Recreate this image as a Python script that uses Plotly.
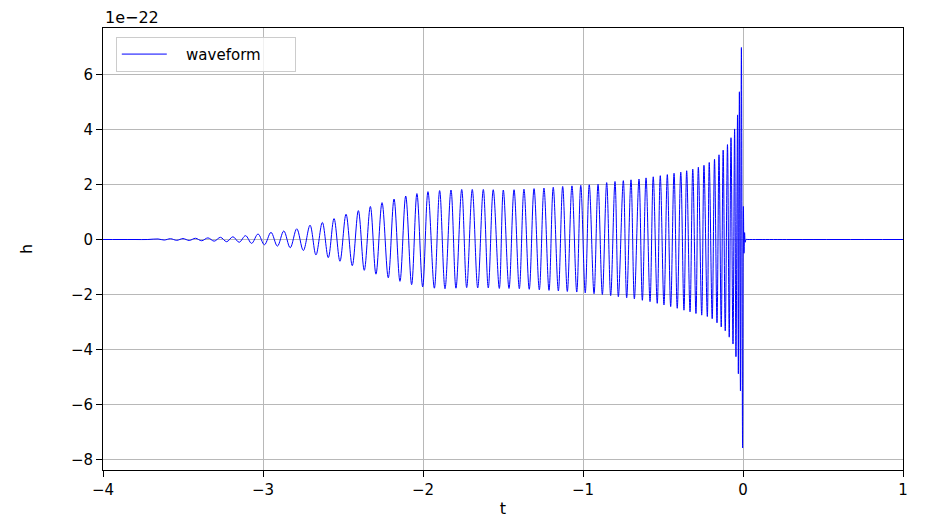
import plotly.graph_objects as go

# ---- data (t in s, h in units of 1e-22) ----
peak_t = [-3.656, -3.578, -3.5, -3.422, -3.344, -3.266, -3.188, -3.109, -3.031, -2.95,
          -2.87, -2.789, -2.706, -2.629, -2.556, -2.481, -2.404, -2.329, -2.256, -2.181,
          -2.108, -2.038, -1.969, -1.896, -1.825, -1.758, -1.692, -1.623, -1.561, -1.498,
          -1.431, -1.369, -1.306, -1.244, -1.186, -1.127, -1.069, -1.014, -0.961, -0.906,
          -0.852, -0.8, -0.748, -0.7, -0.65, -0.606, -0.561, -0.517, -0.473, -0.431,
          -0.389, -0.352, -0.314, -0.279, -0.244, -0.211, -0.178, -0.15, -0.124, -0.097,
          -0.075, -0.0525, -0.034, -0.0225, -0.01]
peak_h = [0.02, 0.03, 0.035, 0.045, 0.06, 0.08, 0.1, 0.14, 0.2, 0.26,
          0.31, 0.39, 0.52, 0.62, 0.76, 0.92, 1.05, 1.2, 1.34, 1.47,
          1.58, 1.67, 1.74, 1.78, 1.8, 1.82, 1.82, 1.82, 1.81, 1.8,
          1.81, 1.83, 1.85, 1.87, 1.9, 1.93, 1.95, 1.97, 1.99, 2.01,
          2.07, 2.11, 2.14, 2.17, 2.2, 2.24, 2.28, 2.32, 2.36, 2.41,
          2.45, 2.5, 2.56, 2.63, 2.7, 2.8, 2.92, 3.08, 3.25, 3.45,
          3.7, 4.02, 4.53, 5.37, 6.98]

trough_t = [-3.6175, -3.539, -3.461, -3.383, -3.305, -3.227, -3.149, -3.071, -2.991, -2.91,
            -2.83, -2.748, -2.669, -2.592, -2.519, -2.442, -2.367, -2.294, -2.217, -2.144,
            -2.071, -2.002, -1.929, -1.8625, -1.794, -1.727, -1.658, -1.592, -1.523, -1.4625,
            -1.398, -1.336, -1.273, -1.2125, -1.154, -1.098, -1.039, -0.986, -0.931, -0.879,
            -0.827, -0.779, -0.727, -0.679, -0.629, -0.581, -0.536, -0.494, -0.452, -0.411,
            -0.369, -0.331, -0.294, -0.258, -0.223, -0.1925, -0.1625, -0.136, -0.111, -0.086,
            -0.0625, -0.044, -0.029, -0.016, -0.0025]
trough_h = [-0.02, -0.03, -0.035, -0.045, -0.06, -0.08, -0.1, -0.14, -0.19, -0.24,
            -0.3, -0.4, -0.56, -0.66, -0.79, -0.95, -1.12, -1.26, -1.39, -1.52,
            -1.64, -1.72, -1.77, -1.79, -1.77, -1.75, -1.76, -1.76, -1.78, -1.78,
            -1.79, -1.81, -1.83, -1.85, -1.87, -1.89, -1.91, -1.94, -1.97, -2.0,
            -2.04, -2.08, -2.12, -2.16, -2.21, -2.26, -2.32, -2.38, -2.44, -2.5,
            -2.57, -2.63, -2.69, -2.75, -2.8, -2.88, -3.03, -3.18, -3.32, -3.55,
            -3.8, -4.26, -4.88, -5.5, -7.58]

ringdown_t = [0.0025, 0.00625, 0.01, 0.014, 0.019]
ringdown_h = [1.2, -0.5, 0.25, -0.1, 0.0]

quiet_t = [-4.0, -3.9, -3.8, -3.72, 0.03, 0.1, 0.3, 0.6, 1.0]
quiet_h = [0.0, 0.0, 0.0, 0.0, 0.0, 0.0, 0.0, 0.0, 0.0]

x_ticks = [-4, -3, -2, -1, 0, 1]
y_ticks = [-8, -6, -4, -2, 0, 2, 4, 6]

# ---- assemble the series ----
pts = sorted(zip(peak_t + trough_t + ringdown_t + quiet_t,
                 peak_h + trough_h + ringdown_h + quiet_h))
t_all = [p[0] for p in pts]
h_all = [p[1] for p in pts]

FONT = "DejaVu Sans"

fig = go.Figure()
fig.add_trace(go.Scatter(
    x=t_all, y=h_all, mode="lines",
    name="\u00a0\u00a0\u00a0waveform\u00a0\u00a0\u00a0\u00a0\u00a0\u00a0",
    line=dict(color="rgb(0,0,255)", width=1, shape="spline", smoothing=1.0),
))

axis_common = dict(
    showline=True, linecolor="black", linewidth=1, mirror=True,
    ticks="outside", ticklen=6, tickwidth=1, tickcolor="black",
    showgrid=True, gridcolor="#b8b8b8", gridwidth=1,
    zeroline=False, automargin=False,
    tickfont=dict(family=FONT, size=15, color="black"),
)

fig.update_xaxes(range=[-4, 1], tickvals=x_ticks,
                 ticktext=[str(v).replace("-", "\u2212") for v in x_ticks],
                 title=dict(text="t", font=dict(family=FONT, size=16, color="black"), standoff=6),
                 **axis_common)
fig.update_yaxes(range=[-8.38, 7.69], tickvals=y_ticks,
                 ticktext=[str(v).replace("-", "\u2212") for v in y_ticks],
                 title=dict(text="h", font=dict(family=FONT, size=16, color="black"), standoff=34),
                 **axis_common)

fig.add_annotation(text="1e\u221222", xref="paper", yref="paper", x=0, y=1,
                   xanchor="left", yanchor="bottom", showarrow=False,
                   font=dict(family=FONT, size=16, color="black"), yshift=-1)

fig.update_layout(
    width=925, height=518,
    margin=dict(l=103, r=22, t=28, b=48, autoexpand=False),
    paper_bgcolor="white", plot_bgcolor="white",
    showlegend=True,
    legend=dict(x=0.016, y=0.98, xanchor="left", yanchor="top",
                bgcolor="rgba(255,255,255,0.8)", bordercolor="#cccccc", borderwidth=1,
                itemwidth=45,
                font=dict(family=FONT, size=15, color="black")),
    font=dict(family=FONT, color="black"),
)

fig.write_html("out.html")
